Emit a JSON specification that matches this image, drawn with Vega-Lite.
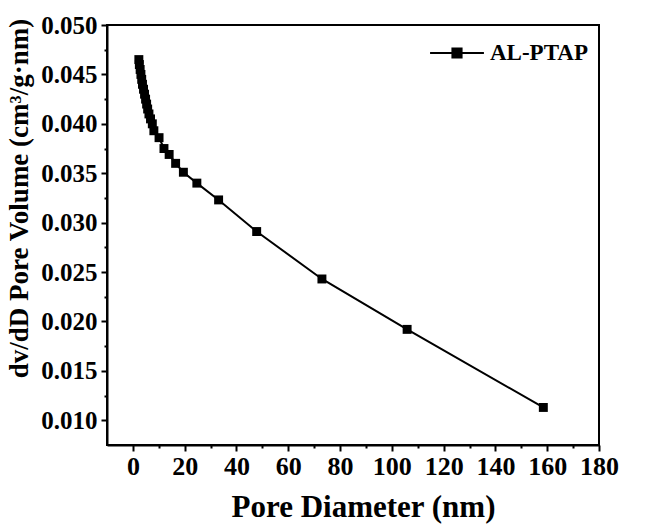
{
  "$schema": "https://vega.github.io/schema/vega-lite/v6.json",
  "autosize": {"type": "none"},
  "width": 492,
  "height": 420,
  "padding": {"left": 107, "top": 25, "right": 48, "bottom": 81},
  "background": "white",
  "config": {
    "font": "Liberation Serif",
    "view": {"stroke": "black", "strokeWidth": 2},
    "axis": {"grid": false, "domainColor": "black", "domainWidth": 2, "tickColor": "black", "tickWidth": 2, "labelFont": "Liberation Serif", "labelFontWeight": "bold", "labelColor": "black", "titleFont": "Liberation Serif", "titleFontWeight": "bold", "titleColor": "black"}
  },
  "data": {"values": [
    {"d": 2.3, "v": 0.0465, "series": "AL-PTAP"},
    {"d": 2.5, "v": 0.0460, "series": "AL-PTAP"},
    {"d": 2.8, "v": 0.0455, "series": "AL-PTAP"},
    {"d": 3.1, "v": 0.0450, "series": "AL-PTAP"},
    {"d": 3.4, "v": 0.0445, "series": "AL-PTAP"},
    {"d": 3.7, "v": 0.0440, "series": "AL-PTAP"},
    {"d": 4.1, "v": 0.0435, "series": "AL-PTAP"},
    {"d": 4.5, "v": 0.0430, "series": "AL-PTAP"},
    {"d": 4.9, "v": 0.0425, "series": "AL-PTAP"},
    {"d": 5.3, "v": 0.0420, "series": "AL-PTAP"},
    {"d": 5.7, "v": 0.0415, "series": "AL-PTAP"},
    {"d": 6.2, "v": 0.0410, "series": "AL-PTAP"},
    {"d": 6.8, "v": 0.0405, "series": "AL-PTAP"},
    {"d": 7.5, "v": 0.0400, "series": "AL-PTAP"},
    {"d": 8.1, "v": 0.0393, "series": "AL-PTAP"},
    {"d": 10.1, "v": 0.0386, "series": "AL-PTAP"},
    {"d": 12.0, "v": 0.0375, "series": "AL-PTAP"},
    {"d": 14.0, "v": 0.0369, "series": "AL-PTAP"},
    {"d": 16.5, "v": 0.0360, "series": "AL-PTAP"},
    {"d": 19.5, "v": 0.0351, "series": "AL-PTAP"},
    {"d": 24.7, "v": 0.0340, "series": "AL-PTAP"},
    {"d": 33.1, "v": 0.0323, "series": "AL-PTAP"},
    {"d": 47.8, "v": 0.0291, "series": "AL-PTAP"},
    {"d": 73.0, "v": 0.0243, "series": "AL-PTAP"},
    {"d": 105.9, "v": 0.0192, "series": "AL-PTAP"},
    {"d": 158.5, "v": 0.0113, "series": "AL-PTAP"}
  ]},
  "resolve": {"axis": {"x": "independent", "y": "independent"}},
  "layer": [
    {
      "mark": {"type": "line", "color": "black", "strokeWidth": 2},
      "encoding": {
        "x": {"field": "d", "type": "quantitative", "scale": {"domain": [-10, 180], "nice": false, "zero": false},
          "axis": {"orient": "bottom", "values": [0, 20, 40, 60, 80, 100, 120, 140, 160, 180], "tickSize": 6, "labelFontSize": 26, "labelPadding": 2, "labelFlush": false, "title": "Pore Diameter (nm)", "titleFontSize": 31, "titleX": 256, "titleY": 71, "titleAnchor": "middle", "titleBaseline": "alphabetic"}},
        "y": {"field": "v", "type": "quantitative", "scale": {"domain": [0.0075, 0.050], "nice": false, "zero": false},
          "axis": {"orient": "left", "values": [0.010, 0.015, 0.020, 0.025, 0.030, 0.035, 0.040, 0.045, 0.050], "format": ".3f", "tickSize": 6, "labelFontSize": 25, "labelPadding": 4, "labelFlush": false, "title": "dv/dD Pore Volume (cm³/g·nm)", "titleFontSize": 27, "titleX": -88, "titleY": 173, "titleAngle": -90, "titleAnchor": "middle", "titleBaseline": "middle"}}
      }
    },
    {
      "mark": {"type": "point", "shape": "square", "filled": true, "size": 80, "opacity": 1},
      "encoding": {
        "x": {"field": "d", "type": "quantitative", "axis": {"orient": "bottom", "values": [10, 30, 50, 70, 90, 110, 130, 150, 170], "tickSize": 3, "labels": false, "domain": false, "title": null}},
        "y": {"field": "v", "type": "quantitative", "axis": {"orient": "left", "values": [0.0125, 0.0175, 0.0225, 0.0275, 0.0325, 0.0375, 0.0425, 0.0475], "tickSize": 3, "labels": false, "domain": false, "title": null}},
        "color": {"field": "series", "type": "nominal", "scale": {"range": ["black"]},
          "legend": {"title": null, "orient": "none", "legendX": 322, "legendY": 0, "padding": 0,
            "symbolType": "M-1,0L-0.17,0M0.17,0L1,0M-0.17,-0.17L0.17,-0.17L0.17,0.17L-0.17,0.17Z",
            "symbolSize": 2900, "symbolStrokeColor": "black", "symbolStrokeWidth": 2, "symbolFillColor": "black", "symbolOpacity": 1,
            "labelFont": "Liberation Serif", "labelFontWeight": "bold", "labelFontSize": 23, "labelColor": "black", "labelOffset": 5}}
      }
    }
  ]
}
